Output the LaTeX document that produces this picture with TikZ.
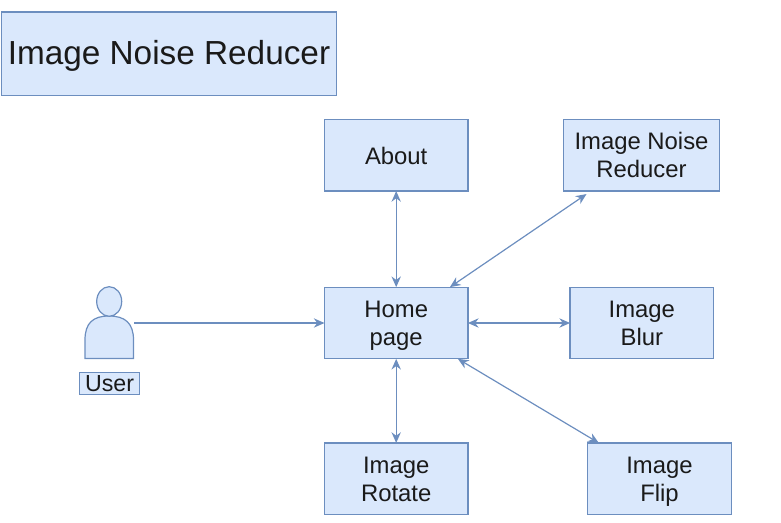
\documentclass[tikz,border=0pt]{standalone}
\usepackage{fontspec}
\setmainfont{Liberation Sans}
\usetikzlibrary{arrows.meta,calc}
\definecolor{boxfill}{HTML}{DAE8FC}
\definecolor{boxline}{HTML}{6C8EBF}
\definecolor{inktext}{HTML}{1A1A1A}
\newcommand{\oneline}[2][13.4pt]{\rule{0pt}{#1}\smash{#2}}
\newcommand{\twolines}[2]{\rule{0pt}{13.0pt}\smash{#1}\\\smash{#2}}
\tikzset{
  x=0.75pt,y=-0.75pt,
  box/.style={draw=boxline,fill=boxfill,line width=0.9pt,inner sep=0pt,outer sep=0pt,align=center,
    text=inktext,font=\fontsize{17.9}{21}\selectfont,minimum width=107.6pt,minimum height=53.8pt},
  link/.style={draw=boxline,line width=0.9pt},
  both/.style={link,{Stealth[length=8pt,width=7pt]}-{Stealth[length=8pt,width=7pt]}},
  single/.style={link,-{Stealth[length=8pt,width=7pt]}}
}
\begin{document}
\begin{tikzpicture}
\useasboundingbox (0,0) rectangle (781,523);
\node[box,minimum width=251.3pt,minimum height=62.6pt,font=\fontsize{25}{30}\selectfont] (title) at (169,53.7) {\oneline[15.6pt]{Image Noise Reducer}};
\node[box] (about) at (396.2,155.2) {\oneline{About}};
\node[box,minimum width=117pt] (noise) at (641.5,155.2) {\twolines{Image Noise}{Reducer}};
\node[box] (home) at (396.2,323) {\twolines{Home}{page}};
\node[box] (blur) at (641.8,323) {\twolines{Image}{Blur}};
\node[box] (rotate) at (396.2,478.8) {\twolines{Image}{Rotate}};
\node[box] (flip) at (659.5,478.8) {\twolines{Image}{Flip}};
% user figure
\draw[boxline,fill=boxfill,line width=0.9pt] (85,358.5) -- (85,340)
  .. controls (85,323) and (93,316) .. (109,316)
  .. controls (125,316) and (133.5,323) .. (133.5,340) -- (133.5,358.5) -- cycle;
\draw[boxline,fill=boxfill,line width=0.9pt] (109.2,301.5) ellipse [x radius=12.5,y radius=14.8];
\coordinate (userport) at (134,323);
\node[box,minimum width=44.6pt,minimum height=17pt,font=\fontsize{17.4}{21}\selectfont] (user) at (109.5,383.5) {User};
% connectors
\draw[single] (userport) -- (home.west);
\draw[both] (about.south) -- (home.north);
\draw[both] (home.south) -- (rotate.north);
\draw[both] (home.east) -- (blur.west);
\coordinate (noiseport) at ($(noise.south west)+(23,3)$);
\coordinate (flipport) at ($(flip.north west)+(11,0)$);
\draw[both] ($(home.north east)+(-18,0)$) -- (noiseport);
\draw[both] ($(home.south east)+(-10,0)$) -- (flipport);
\end{tikzpicture}
\end{document}
